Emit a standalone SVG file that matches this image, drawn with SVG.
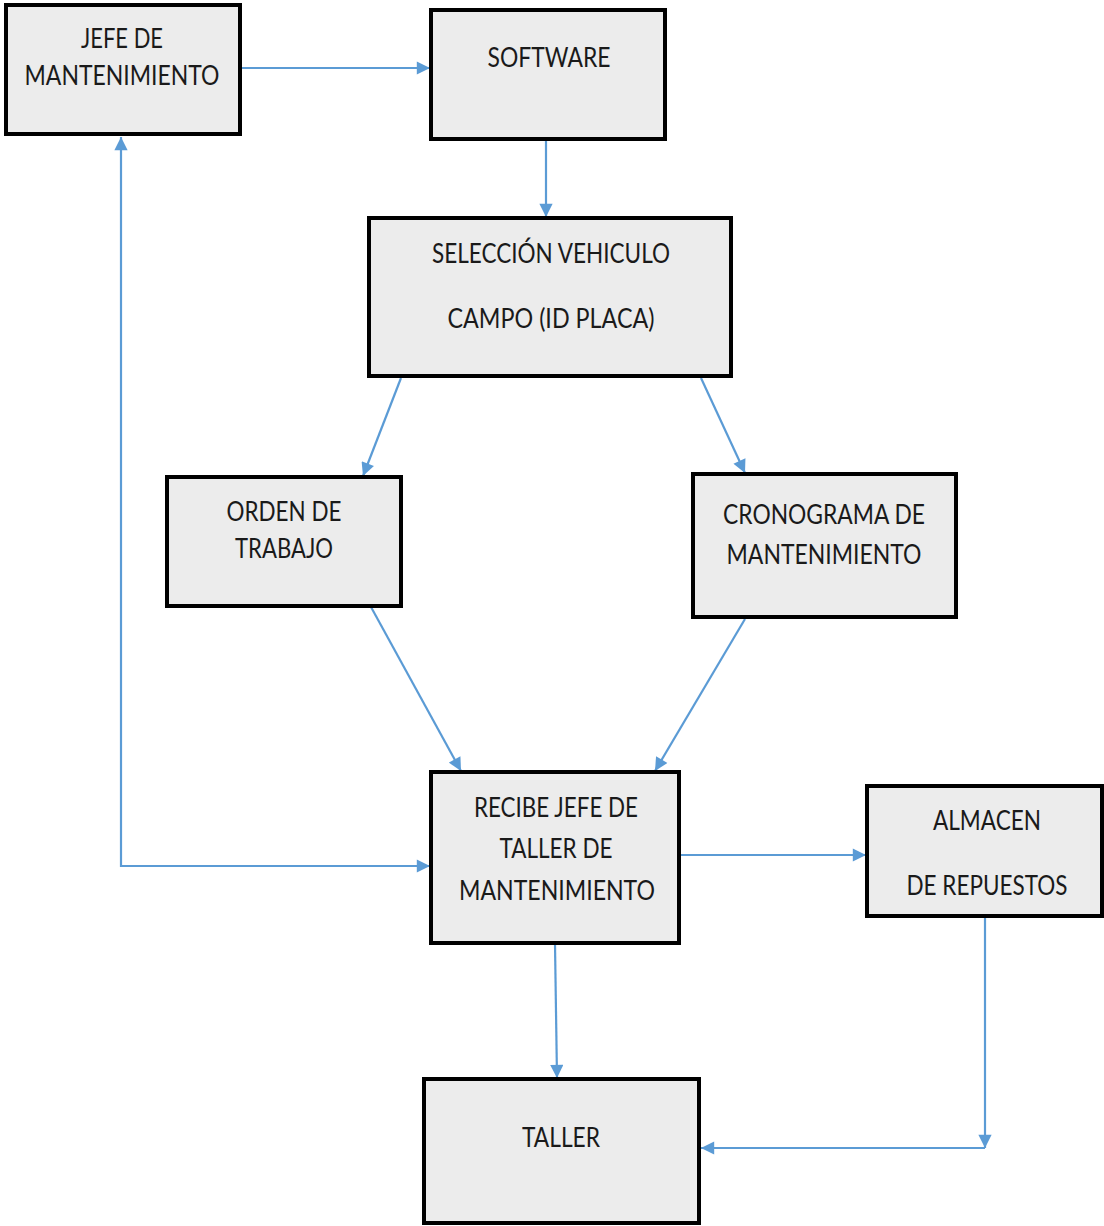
<svg xmlns="http://www.w3.org/2000/svg" width="1104" height="1226" viewBox="0 0 1104 1226">
  <style>
    .box { fill: #ececec; stroke: #000; stroke-width: 4; }
    .lbl { font-family: Lato, "Open Sans", "Liberation Sans", sans-serif; font-size: 27px; fill: #1a1a1a; }
    .wire { fill: none; stroke: #5b9bd5; stroke-width: 2.2; }
  </style>
  <defs>
    <marker id="arrow" viewBox="0 0 10 10" refX="10" refY="5" markerWidth="6.5" markerHeight="6" markerUnits="strokeWidth" orient="auto-start-reverse">
      <path d="M0,0 L10,5 L0,10 Z" fill="#5b9bd5"/>
    </marker>
  </defs>

  <rect width="1104" height="1226" fill="#fff"/>

  <!-- connectors -->
  <g id="connectors">
    <line class="wire" x1="241" y1="68" x2="430" y2="68" marker-end="url(#arrow)"/>
    <line class="wire" x1="546" y1="140" x2="546" y2="217" marker-end="url(#arrow)"/>
    <line class="wire" x1="401" y1="378" x2="363" y2="476" marker-end="url(#arrow)"/>
    <line class="wire" x1="701" y1="378" x2="745" y2="473" marker-end="url(#arrow)"/>
    <line class="wire" x1="371" y1="607" x2="461" y2="771" marker-end="url(#arrow)"/>
    <line class="wire" x1="745" y1="619" x2="655" y2="771" marker-end="url(#arrow)"/>
    <polyline class="wire" points="121,137 121,866 430,866" marker-start="url(#arrow)" marker-end="url(#arrow)"/>
    <line class="wire" x1="680" y1="855" x2="866" y2="855" marker-end="url(#arrow)"/>
    <line class="wire" x1="555" y1="944" x2="557" y2="1078" marker-end="url(#arrow)"/>
    <line class="wire" x1="985" y1="918" x2="985" y2="1148" marker-end="url(#arrow)"/>
    <line class="wire" x1="985" y1="1148" x2="701" y2="1148" marker-end="url(#arrow)"/>
  </g>

  <!-- nodes -->
  <g id="jefe">
    <rect class="box" x="6" y="5" width="234" height="129"/>
    <text class="lbl" x="122" y="48" text-anchor="middle" textLength="82" lengthAdjust="spacingAndGlyphs">JEFE DE</text>
    <text class="lbl" x="122" y="85" text-anchor="middle" textLength="195" lengthAdjust="spacingAndGlyphs">MANTENIMIENTO</text>
  </g>

  <g id="software">
    <rect class="box" x="431" y="10" width="234" height="129"/>
    <text class="lbl" x="549" y="67" text-anchor="middle" textLength="123" lengthAdjust="spacingAndGlyphs">SOFTWARE</text>
  </g>

  <g id="seleccion">
    <rect class="box" x="369" y="218" width="362" height="158"/>
    <text class="lbl" x="551" y="263" text-anchor="middle" textLength="238" lengthAdjust="spacingAndGlyphs">SELECCIÓN VEHICULO</text>
    <text class="lbl" x="551" y="328" text-anchor="middle" textLength="207" lengthAdjust="spacingAndGlyphs">CAMPO (ID PLACA)</text>
  </g>

  <g id="orden">
    <rect class="box" x="167" y="477" width="234" height="129"/>
    <text class="lbl" x="284" y="521" text-anchor="middle" textLength="115" lengthAdjust="spacingAndGlyphs">ORDEN DE</text>
    <text class="lbl" x="284" y="558" text-anchor="middle" textLength="98" lengthAdjust="spacingAndGlyphs">TRABAJO</text>
  </g>

  <g id="cronograma">
    <rect class="box" x="693" y="474" width="263" height="143"/>
    <text class="lbl" x="824" y="524" text-anchor="middle" textLength="202" lengthAdjust="spacingAndGlyphs">CRONOGRAMA DE</text>
    <text class="lbl" x="824" y="564" text-anchor="middle" textLength="195" lengthAdjust="spacingAndGlyphs">MANTENIMIENTO</text>
  </g>

  <g id="recibe">
    <rect class="box" x="431" y="772" width="248" height="171"/>
    <text class="lbl" x="556" y="817" text-anchor="middle" textLength="164" lengthAdjust="spacingAndGlyphs">RECIBE JEFE DE</text>
    <text class="lbl" x="556" y="858" text-anchor="middle" textLength="113" lengthAdjust="spacingAndGlyphs">TALLER DE</text>
    <text class="lbl" x="557" y="900" text-anchor="middle" textLength="196" lengthAdjust="spacingAndGlyphs">MANTENIMIENTO</text>
  </g>

  <g id="almacen">
    <rect class="box" x="867" y="786" width="235" height="130"/>
    <text class="lbl" x="987" y="830" text-anchor="middle" textLength="108" lengthAdjust="spacingAndGlyphs">ALMACEN</text>
    <text class="lbl" x="987" y="895" text-anchor="middle" textLength="161" lengthAdjust="spacingAndGlyphs">DE REPUESTOS</text>
  </g>

  <g id="taller">
    <rect class="box" x="424" y="1079" width="275" height="144"/>
    <text class="lbl" x="561" y="1147" text-anchor="middle" textLength="78" lengthAdjust="spacingAndGlyphs">TALLER</text>
  </g>
</svg>
